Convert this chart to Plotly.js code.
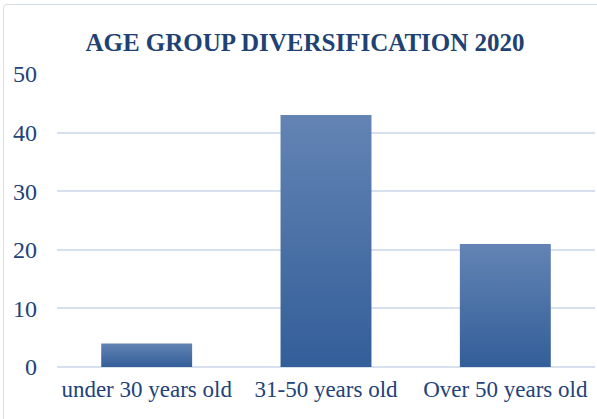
<!DOCTYPE html>
<html><head><meta charset="utf-8">
<script src="https://cdn.plot.ly/plotly-3.0.1.min.js"></script>
<style>html,body{margin:0;padding:0;background:#fff}#wrap{position:relative;width:597px;height:419px}
#frame{position:absolute;left:3px;top:4px;width:600px;height:420px;border:1.5px solid #d9dfe8;border-radius:4px;pointer-events:none}</style>
</head><body><div id="wrap"><div id="chart" style="width:597px;height:419px"></div><div id="frame"></div></div>
<script>
const categories = ["under 30 years old", "31-50 years old", "Over 50 years old"];
const values = [4, 43, 21];
const yTicks = [0, 10, 20, 30, 40, 50];
const titleText = "AGE GROUP DIVERSIFICATION 2020";

const font = "Liberation Serif, Cambria, serif";
const data = [{type:'bar', x:categories, y:values, width:0.507, marker:{color:'#4a72aa', line:{width:0}}, hoverinfo:'none'}];
const layout = {
  width:597, height:419,
  margin:{l:57, r:2, t:74, b:52},
  paper_bgcolor:'#fff', plot_bgcolor:'#fff', showlegend:false,
  title:{text:'<b>'+titleText+'</b>', x:305/597, xref:'container', y:1-42/419, yref:'container', yanchor:'middle', xanchor:'center',
    font:{family:font, size:25, color:'#1f4274'}},
  xaxis:{type:'category', showgrid:false, zeroline:false, showline:false, ticks:'',
    tickfont:{family:font, size:23, color:'#22427a'}, ticklabelstandoff:6},
  yaxis:{range:[0,50], tickvals:yTicks, showgrid:true, gridcolor:'#d6e0ef', gridwidth:2, zeroline:true, zerolinecolor:'#d6e0ef', zerolinewidth:2,
    showline:false, ticks:'', tickfont:{family:font, size:24, color:'#22427a'}, ticklabelstandoff:19}
};
function grad(){
  const svg = document.querySelector('#chart svg.main-svg');
  if(!svg) return;
  let defs = svg.querySelector('defs');
  if(!document.getElementById('bargrad')){
    const ns='http://www.w3.org/2000/svg';
    const lg=document.createElementNS(ns,'linearGradient');
    lg.setAttribute('id','bargrad'); lg.setAttribute('x1','0'); lg.setAttribute('y1','0'); lg.setAttribute('x2','0'); lg.setAttribute('y2','1');
    lg.setAttribute('gradientUnits','objectBoundingBox');
    [['0','#6384b4'],['1','#335e99']].forEach(([o,c])=>{const s=document.createElementNS(ns,'stop');s.setAttribute('offset',o);s.setAttribute('stop-color',c);lg.appendChild(s);});
    defs.appendChild(lg);
  }
  document.querySelectorAll('#chart .bars .point path').forEach(p=>{p.style.fill='url(#bargrad)';});
}
Plotly.newPlot('chart', data, layout, {staticPlot:true, displayModeBar:false}).then(grad);
</script></body></html>
